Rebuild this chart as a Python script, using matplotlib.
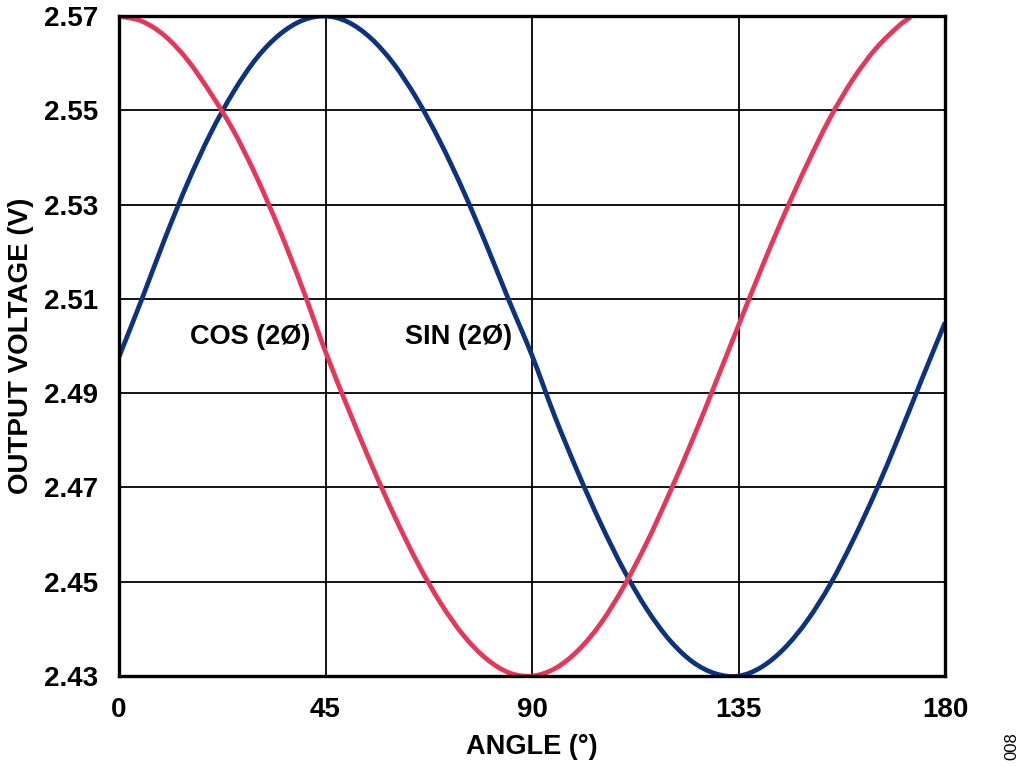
import matplotlib
matplotlib.use("Agg")
import matplotlib.pyplot as plt
from matplotlib.path import Path
from matplotlib.patches import PathPatch

plt.rcParams['font.family'] = ['Liberation Sans', 'DejaVu Sans']

# Angle (degrees)
angle = [0, 5, 10, 15, 20, 25, 30, 35, 40, 45, 50, 55, 60, 65, 70, 75, 80, 85, 90,
         95, 100, 105, 110, 115, 120, 125, 130, 135, 140, 145, 150, 155, 160, 165,
         170, 175, 180]

# SIN (2Ø) output voltage (V)
sin_v = [2.4977, 2.5100, 2.5228, 2.5347, 2.5452, 2.5540, 2.5611, 2.5661, 2.5691,
         2.5700, 2.5687, 2.5652, 2.5597, 2.5523, 2.5433, 2.5330, 2.5216, 2.5096,
         2.4980, 2.4850, 2.4732, 2.4623, 2.4525, 2.4442, 2.4376, 2.4330, 2.4305,
         2.4300, 2.4319, 2.4359, 2.4418, 2.4495, 2.4589, 2.4694, 2.4810, 2.4931,
         2.5050]

# COS (2Ø) output voltage (V)
cos_angle = [0, 5, 10, 15, 20, 25, 30, 35, 40, 45, 50, 55, 60, 65, 70, 75, 80, 85,
             90, 95, 100, 105, 110, 115, 120, 125, 130, 135, 140, 145, 150, 155,
             160, 165, 170, 172.5]
cos_v = [2.5700, 2.5689, 2.5658, 2.5606, 2.5536, 2.5456, 2.5358, 2.5246, 2.5122,
         2.4988, 2.4866, 2.4749, 2.4640, 2.4541, 2.4456, 2.4387, 2.4337, 2.4307,
         2.4300, 2.4316, 2.4354, 2.4412, 2.4490, 2.4583, 2.4689, 2.4802, 2.4922,
         2.5044, 2.5165, 2.5280, 2.5387, 2.5485, 2.5567, 2.5632, 2.5680, 2.5698]

x_ticks = [0, 45, 90, 135, 180]
y_ticks = [2.43, 2.45, 2.47, 2.49, 2.51, 2.53, 2.55, 2.57]

BLUE = '#0C337D'
PINK = '#E4375A'


def smooth_path(xs, ys):
    """Smooth cubic (Hermite as Bezier) path through the given points."""
    n = len(xs)
    slopes = []
    for i in range(n):
        a = max(i - 1, 0)
        b = min(i + 1, n - 1)
        slopes.append((ys[b] - ys[a]) / (xs[b] - xs[a]))
    verts = [(xs[0], ys[0])]
    codes = [Path.MOVETO]
    for i in range(n - 1):
        h = xs[i + 1] - xs[i]
        c1 = (xs[i] + h / 3, ys[i] + slopes[i] * h / 3)
        c2 = (xs[i + 1] - h / 3, ys[i + 1] - slopes[i + 1] * h / 3)
        verts += [c1, c2, (xs[i + 1], ys[i + 1])]
        codes += [Path.CURVE4] * 3
    return Path(verts, codes)


fig = plt.figure(figsize=(10.24, 7.67), dpi=100)
ax = fig.add_axes([0.1162, 0.1186, 0.8067, 0.8604])

for xs, ys, col in [(angle, sin_v, BLUE), (cos_angle, cos_v, PINK)]:
    patch = PathPatch(smooth_path(xs, ys), facecolor='none', edgecolor=col,
                      lw=3.4, capstyle='butt', zorder=3, transform=ax.transData)
    ax.add_patch(patch)

ax.set_xlim(0, 180)
ax.set_ylim(2.43, 2.57)
ax.set_xticks(x_ticks)
ax.set_yticks(y_ticks)
ax.set_xticklabels([str(t) for t in x_ticks])
ax.set_yticklabels([f"{t:.2f}" for t in y_ticks])
ax.tick_params(axis='both', length=0, labelsize=20)
ax.tick_params(axis='x', pad=15)
ax.tick_params(axis='y', pad=15)
for lab in ax.get_xticklabels() + ax.get_yticklabels():
    lab.set_fontweight('bold')

ax.grid(True, color='black', lw=1.3, zorder=1)
for s in ax.spines.values():
    s.set_linewidth(2.4)
    s.set_zorder(4)

ax.set_xlabel('ANGLE (°)', fontsize=19.5, fontweight='bold', labelpad=8)
ax.set_ylabel('OUTPUT VOLTAGE (V)', fontsize=20, fontweight='bold', labelpad=7)

ax.text(15.5, 2.5019, 'COS (2Ø)', fontsize=19.5, fontweight='bold', va='center', ha='left')
ax.text(62.3, 2.5019, 'SIN (2Ø)', fontsize=19.5, fontweight='bold', va='center', ha='left')

fig.text(1012 / 1024, 1 - 746 / 767, '008', rotation=90, fontsize=12,
         ha='center', va='center')

fig.savefig('out.png', dpi=100)
